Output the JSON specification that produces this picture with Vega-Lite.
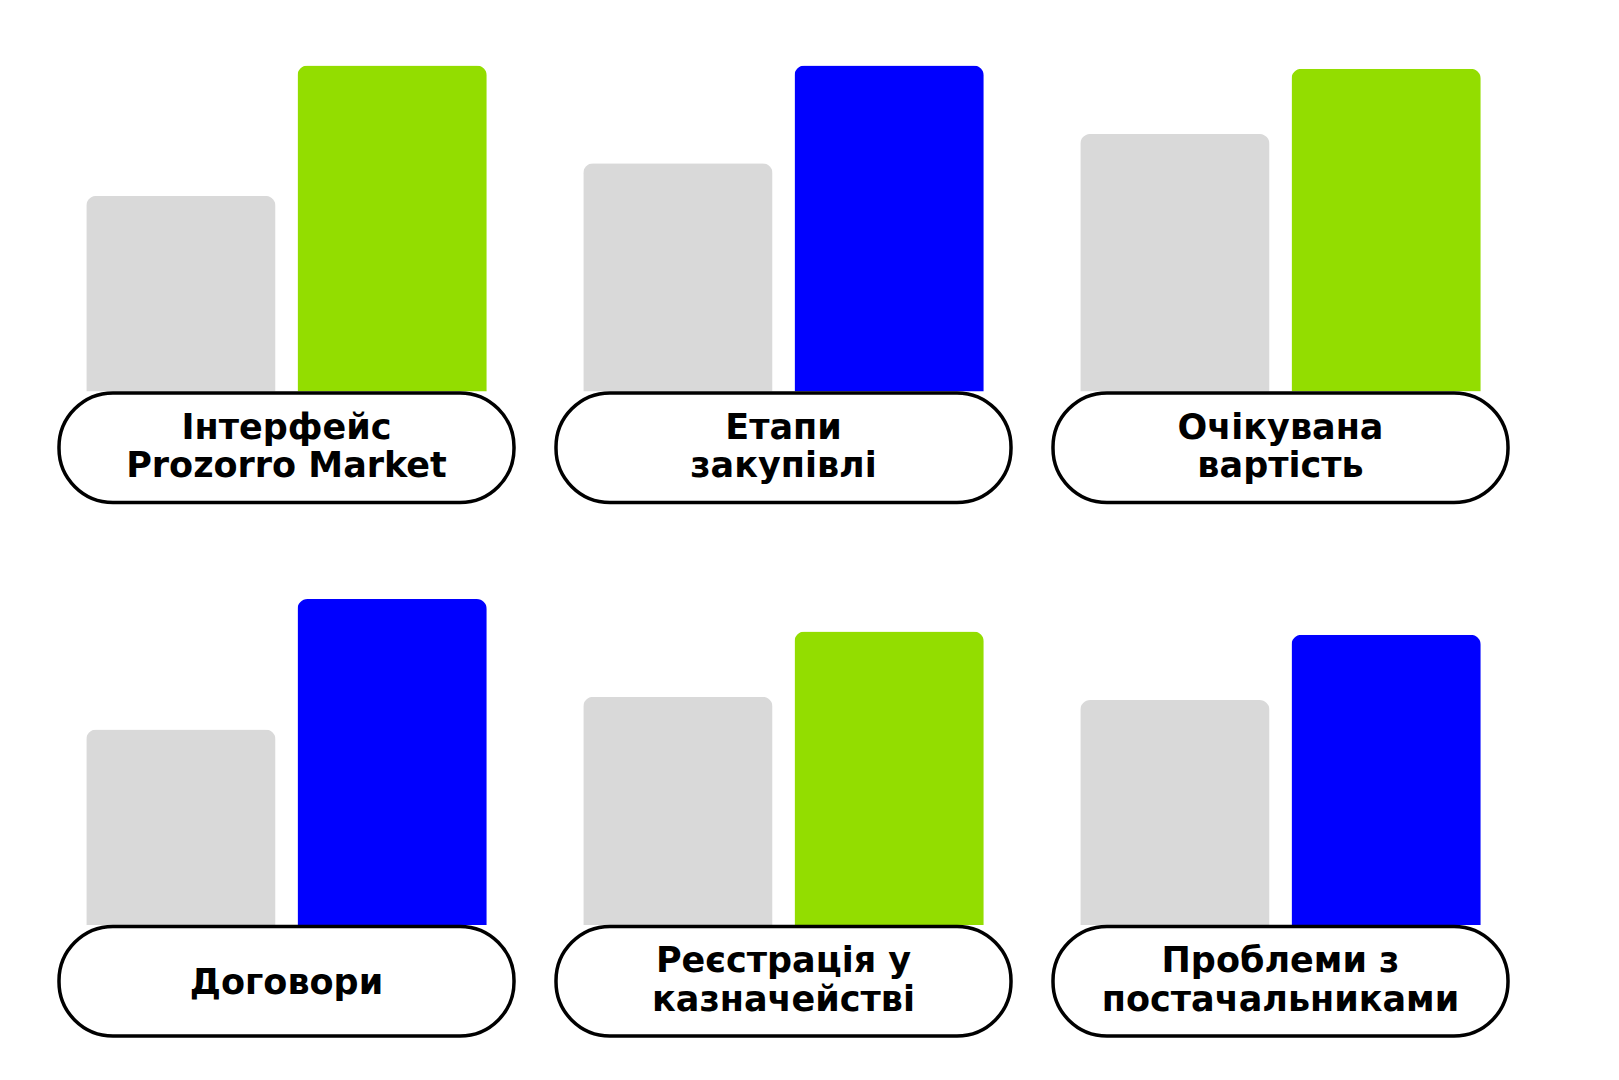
{
  "$schema": "https://vega.github.io/schema/vega-lite/v6.json",
  "background": "white",
  "padding": {"left": 57, "top": 65.5, "right": 0, "bottom": 0},
  "bounds": "flush",
  "data": {
    "values": [
      {"topic": "Інтерфейс\nProzorro Market", "group": "before", "value": 60},
      {"topic": "Інтерфейс\nProzorro Market", "group": "after", "value": 100},
      {"topic": "Етапи\nзакупівлі", "group": "before", "value": 70},
      {"topic": "Етапи\nзакупівлі", "group": "after", "value": 100},
      {"topic": "Очікувана\nвартість", "group": "before", "value": 79},
      {"topic": "Очікувана\nвартість", "group": "after", "value": 99},
      {"topic": "Договори", "group": "before", "value": 60},
      {"topic": "Договори", "group": "after", "value": 100},
      {"topic": "Реєстрація у\nказначействі", "group": "before", "value": 70},
      {"topic": "Реєстрація у\nказначействі", "group": "after", "value": 90},
      {"topic": "Проблеми з\nпостачальниками", "group": "before", "value": 69},
      {"topic": "Проблеми з\nпостачальниками", "group": "after", "value": 89}
    ]
  },
  "facet": {
    "field": "topic",
    "type": "nominal",
    "title": null,
    "sort": ["Інтерфейс\nProzorro Market", "Етапи\nзакупівлі", "Очікувана\nвартість", "Договори", "Реєстрація у\nказначействі", "Проблеми з\nпостачальниками"],
    "header": {"title": null, "labels": false, "labelExpr": "''", "labelFontSize": 0, "labelPadding": 0, "titlePadding": 0, "labelColor": "transparent"}
  },
  "columns": 3,
  "spacing": {"row": 96.5, "column": 42},
  "spec": {
    "width": 455,
    "height": 437,
    "layer": [
      {
        "mark": {"type": "bar", "cornerRadiusEnd": 10},
        "encoding": {
          "x": {"field": "group", "type": "nominal", "sort": ["before", "after"], "scale": {"paddingInner": 0.104, "paddingOuter": 0.129}, "axis": null},
          "y": {"field": "value", "type": "quantitative", "scale": {"domain": [-34, 100], "nice": false, "zero": false}, "axis": null},
          "color": {
            "condition": {"test": "datum.group === 'before'", "value": "#D9D9D9"},
            "field": "topic",
            "type": "nominal",
            "scale": {
              "domain": ["Інтерфейс\nProzorro Market", "Етапи\nзакупівлі", "Очікувана\nвартість", "Договори", "Реєстрація у\nказначействі", "Проблеми з\nпостачальниками"],
              "range": ["#93DD00", "#0000FF", "#93DD00", "#0000FF", "#93DD00", "#0000FF"]
            },
            "legend": null
          }
        }
      },
      {
        "transform": [{"filter": "datum.group === 'after'"}],
        "mark": {"type": "rect", "fill": "white", "stroke": "black", "strokeWidth": 3.5, "cornerRadius": 54},
        "encoding": {
          "y": {"datum": -0.4, "type": "quantitative"},
          "y2": {"datum": -34}
        }
      },
      {
        "transform": [{"filter": "datum.group === 'after' && indexof(datum.topic, '\\n') >= 0"}],
        "mark": {"type": "text", "font": "DejaVu Sans", "fontWeight": "bold", "fontSize": 35, "lineHeight": 38.4, "lineBreak": "\n", "align": "center", "baseline": "middle", "color": "black"},
        "encoding": {
          "y": {"datum": -11.1, "type": "quantitative"},
          "text": {"field": "topic", "type": "nominal"}
        }
      },
      {
        "transform": [{"filter": "datum.group === 'after' && indexof(datum.topic, '\\n') < 0"}],
        "mark": {"type": "text", "font": "DejaVu Sans", "fontWeight": "bold", "fontSize": 35, "align": "center", "baseline": "middle", "color": "black"},
        "encoding": {
          "y": {"datum": -17.7, "type": "quantitative"},
          "text": {"field": "topic", "type": "nominal"}
        }
      }
    ]
  },
  "config": {
    "view": {"stroke": null},
    "header": {"labels": false, "title": null, "labelPadding": 0, "titlePadding": 0, "labelFontSize": 0},
    "headerFacet": {"labels": false, "title": null, "labelPadding": 0, "titlePadding": 0, "labelFontSize": 0}
  }
}
